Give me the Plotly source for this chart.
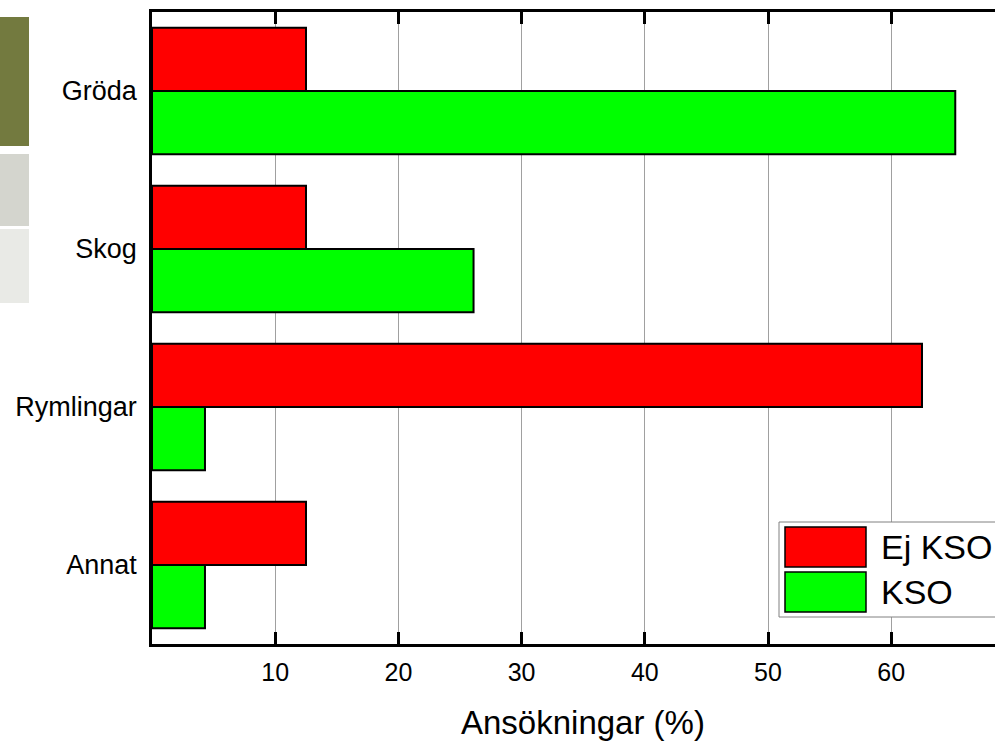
import plotly.graph_objects as go

categories = ["Gröda", "Skog", "Rymlingar", "Annat"]
ej_kso = [12.5, 12.5, 62.5, 12.5]
kso = [65.2, 26.1, 4.3, 4.3]
series_names = ["Ej KSO", "KSO"]
series_colors = ["#FF0000", "#00FF00"]
x_tickvals = [10, 20, 30, 40, 50, 60]
x_title = "Ansökningar (%)"

W, H = 995, 741
ML, MR, MT, MB = 152, 0, 12, 97
PW, PH = W - ML - MR, H - MT - MB
FONT = "Liberation Sans, Arial, Helvetica, sans-serif"


def px(x):
    return (x - ML) / PW


def py(y):
    return (MT + PH - y) / PH


fig = go.Figure()
for name, vals, col in zip(series_names, [ej_kso, kso], series_colors):
    fig.add_trace(go.Bar(
        y=categories, x=vals, name=name, orientation="h",
        marker=dict(color=col, line=dict(color="black", width=2)),
        showlegend=False,
    ))

shapes = []
# left-side decorative blocks
for (x0, x1, y0, y1, c) in [(0, 29, 17, 146, "#737A3F"),
                            (0, 29, 154, 226, "#D4D5CE"),
                            (0, 29, 229, 303, "#E9EAE6")]:
    shapes.append(dict(type="rect", xref="paper", yref="paper",
                       x0=px(x0), x1=px(x1), y0=py(y1), y1=py(y0),
                       fillcolor=c, line=dict(width=0), layer="below"))

# manual legend
shapes.append(dict(type="rect", xref="paper", yref="paper",
                   x0=px(779), x1=px(1010), y0=py(617), y1=py(522),
                   fillcolor="white", line=dict(color="#808080", width=1)))
annotations = []
for i, (name, col) in enumerate(zip(series_names, series_colors)):
    top = 527 + i * 45
    shapes.append(dict(type="rect", xref="paper", yref="paper",
                       x0=px(785), x1=px(866), y0=py(top + 40), y1=py(top),
                       fillcolor=col, line=dict(color="black", width=1.5)))
    annotations.append(dict(xref="paper", yref="paper", x=px(879), y=py(top + 20),
                            xanchor="left", yanchor="middle", text=name,
                            showarrow=False, font=dict(size=34, color="black", family=FONT)))

x_max = PW / 12.32
annotations.append(dict(xref="x", yref="paper", x=35, y=py(722), text=x_title,
                        showarrow=False, xanchor="center", yanchor="middle",
                        font=dict(size=33, color="black", family=FONT)))

fig.update_layout(
    width=W, height=H, autosize=False,
    margin=dict(l=ML, r=MR, t=MT, b=MB, pad=0),
    paper_bgcolor="white", plot_bgcolor="white",
    barmode="group", bargap=0.2, bargroupgap=0,
    font=dict(family=FONT, color="black"),
    shapes=shapes, annotations=annotations,
    xaxis=dict(range=[0, x_max], tickvals=x_tickvals, ticks="inside", ticklen=12,
               tickwidth=2.5, tickcolor="black", showgrid=True, gridcolor="#A0A0A0",
               gridwidth=1, showline=True, linecolor="black", linewidth=2.5,
               mirror="ticks", zeroline=False, tickfont=dict(size=25),
               ticklabelstandoff=4),
    yaxis=dict(autorange="reversed", showline=True, linecolor="black", linewidth=2.5,
               ticks="", showgrid=False, zeroline=False, tickfont=dict(size=27),
               ticklabelstandoff=7),
)

fig.write_html("out.html", config={"displayModeBar": False},
               post_script="document.body.style.margin='0';")
